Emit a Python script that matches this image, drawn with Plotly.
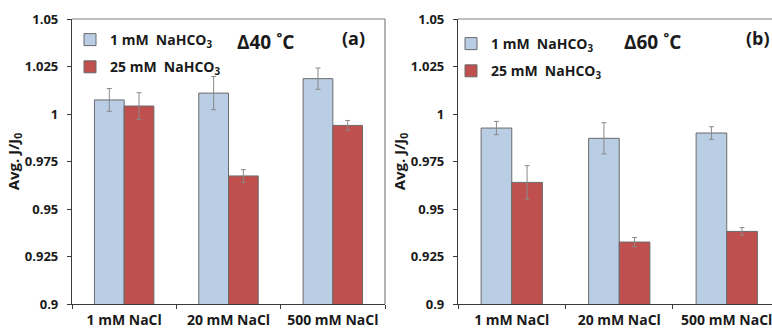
import plotly.graph_objects as go

# ---------------- data ----------------
categories = ["1 mM NaCl", "20 mM NaCl", "500 mM NaCl"]

a_1mM = [1.0074, 1.0110, 1.0186]
a_1mM_err = [0.0060, 0.0087, 0.0056]
a_25mM = [1.0042, 0.9674, 0.9940]
a_25mM_err = [0.0070, 0.0033, 0.0026]

b_1mM = [0.9926, 0.9872, 0.9900]
b_1mM_err = [0.0035, 0.0082, 0.0033]
b_25mM = [0.9640, 0.9326, 0.9382]
b_25mM_err = [0.0088, 0.0024, 0.0020]

series_names = ["1 mM\u00a0 NaHCO<sub>3</sub>", "25 mM\u00a0 NaHCO<sub>3</sub>"]
y_tickvals = [0.9, 0.925, 0.95, 0.975, 1.0, 1.025, 1.05]
y_ticktext = ["0.9", "0.925", "0.95", "0.975", "1", "1.025", "1.05"]

# ---------------- style ----------------
W, H = 772, 328
FONT = "Open Sans"
BLUE = "#B9CDE5"
RED = "#C0504D"
OUTLINE = "#6a6a6a"
ERR = "#8a8a8a"
AXIS = "#3a3a3a"
FRAME = "#808080"
TXT = "#1a1a1a"

fig = go.Figure()

def add_bar(x_axis, y_axis, vals, errs, color, name, legend, group):
    fig.add_trace(go.Bar(
        x=categories, y=vals, name=name,
        xaxis=x_axis, yaxis=y_axis,
        marker=dict(color=color, line=dict(color=OUTLINE, width=1)),
        error_y=dict(type="data", array=errs, color=ERR, thickness=1, width=2.5),
        legend=legend, legendgroup=group, showlegend=True,
    ))

add_bar("x", "y", a_1mM, a_1mM_err, BLUE, series_names[0], "legend", "a1")
add_bar("x", "y", a_25mM, a_25mM_err, RED, series_names[1], "legend", "a2")
add_bar("x2", "y2", b_1mM, b_1mM_err, BLUE, series_names[0], "legend2", "b1")
add_bar("x2", "y2", b_25mM, b_25mM_err, RED, series_names[1], "legend2", "b2")

ytickfont = dict(family=FONT, size=13, color=TXT, weight="bold")
xtickfont = dict(family=FONT, size=14, color=TXT, weight="bold")

def xaxis_cfg(domain, rng, anchor):
    return dict(domain=domain, range=rng, anchor=anchor, type="category",
                showline=True, linecolor=AXIS, linewidth=1.2,
                ticks="outside", ticklen=4, tickcolor=AXIS, tickwidth=1,
                tickson="boundaries", tickfont=xtickfont, showgrid=False,
                zeroline=False, fixedrange=True, ticklabelstandoff=3)

def yaxis_cfg(anchor):
    return dict(domain=[0, 1], range=[0.9, 1.05], anchor=anchor,
                tickvals=y_tickvals, ticktext=y_ticktext,
                showline=True, linecolor=AXIS, linewidth=1.2,
                ticks="outside", ticklen=4, tickcolor=AXIS, tickwidth=1,
                tickfont=ytickfont, showgrid=False, zeroline=False,
                ticklabelstandoff=6, fixedrange=True,
                title=dict(text="Avg. J/J<sub>0</sub>", standoff=0,
                           font=dict(family=FONT, size=15, color=TXT, weight="bold")))

legfont = dict(family=FONT, size=14, color=TXT, weight="bold")

fig.update_layout(
    width=W, height=H,
    margin=dict(l=0, r=0, t=19, b=24, autoexpand=False),
    paper_bgcolor="white", plot_bgcolor="white",
    barmode="group", bargap=0.43, bargroupgap=0,
    font=dict(family=FONT, color=TXT),
    xaxis=xaxis_cfg([72 / W, 385 / W], [-0.5, 2.5], "y"),
    yaxis=yaxis_cfg("x"),
    xaxis2=xaxis_cfg([458 / W, 1.0], [-0.5, 2.421], "y2"),
    yaxis2=yaxis_cfg("x2"),
    legend=dict(x=70 / W, y=(304 - 24) / 285, xanchor="left", yanchor="top",
                bgcolor="rgba(0,0,0,0)", font=legfont, tracegroupgap=6,
                itemclick=False),
    legend2=dict(x=451 / W, y=(304 - 28) / 285, xanchor="left", yanchor="top",
                 bgcolor="rgba(0,0,0,0)", font=legfont, tracegroupgap=6,
                 itemclick=False),
    showlegend=True,
)

# frame lines (top / right) in lighter grey
fig.add_shape(type="line", xref="x domain", yref="y domain", x0=0, x1=1, y0=1, y1=1,
              line=dict(color=FRAME, width=1.2))
fig.add_shape(type="line", xref="x domain", yref="y domain", x0=1, x1=1, y0=0, y1=1,
              line=dict(color=FRAME, width=1.2))
fig.add_shape(type="line", xref="x2 domain", yref="y2 domain", x0=0, x1=1, y0=1, y1=1,
              line=dict(color=FRAME, width=1.2))

def ann(x_px, y_px, text, size):
    fig.add_annotation(x=x_px / W, y=(304 - y_px) / 285, xref="paper", yref="paper",
                       text=text, showarrow=False, xanchor="center", yanchor="middle",
                       font=dict(family=FONT, size=size, color=TXT, weight="bold"))

ann(265, 42, "Δ40 ˚C", 19)
ann(353, 38, "(a)", 18)
ann(652, 42, "Δ60 ˚C", 19)
ann(758, 38, "(b)", 18)

fig.write_html("out.html", config={"displayModeBar": False},
               post_script="document.body.style.margin='0';document.body.style.padding='0';")
